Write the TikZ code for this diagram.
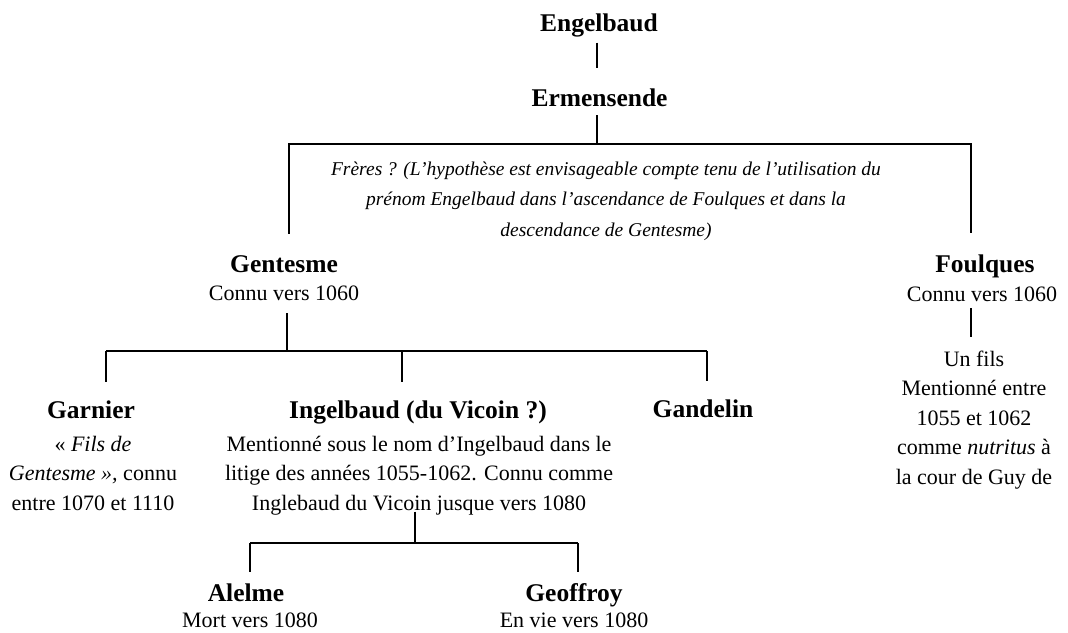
\documentclass[tikz,border=0pt]{standalone}
\usepackage{fontspec}
\setmainfont{Liberation Serif}
\newcommand{\mlines}[1]{\begin{tabular}[t]{@{}c@{}}#1\end{tabular}}
\begin{document}
\begin{tikzpicture}[x=1pt,y=-1pt,
  every node/.style={inner sep=0pt,outer sep=0pt,anchor=base},
  nm/.style={font=\fontsize{25.5}{29}\selectfont\bfseries},
  ds/.style={font=\fontsize{22}{29.6}\selectfont},
  nt/.style={font=\fontsize{19.5}{30.5}\selectfont\itshape},
  ln/.style={line width=1.6pt}]
\useasboundingbox (0,0) rectangle (1068,632);
% nodes
\node[nm] (engel) at (599,31) {Engelbaud};
\node[nm] (ermen) at (599.5,106) {Ermensende};
\node[nt] (note) at (606,175) {\mlines{Frères ? (L’hypothèse est envisageable compte tenu de l’utilisation du\\prénom Engelbaud dans l’ascendance de Foulques et dans la\\descendance de Gentesme)}};
\node[nm] (gent) at (284,272) {Gentesme};
\node[ds] (gdesc) at (284,300) {Connu vers 1060};
\node[nm] (foul) at (985,272) {Foulques};
\node[ds] (fdesc) at (982,301) {Connu vers 1060};
\node[ds] (fson) at (974,366) {\mlines{Un fils\\Mentionné entre\\1055 et 1062\\comme \emph{nutritus} à\\la cour de Guy de}};
\node[nm] (garn) at (91,418) {Garnier};
\node[ds] (gadesc) at (93,451) {\mlines{« \emph{Fils de}\\\emph{Gentesme »,} connu\\entre 1070 et 1110}};
\node[nm] (ingel) at (418,418) {Ingelbaud (du Vicoin ?)};
\node[ds] (idesc) at (419,451) {\mlines{Mentionné sous le nom d’Ingelbaud dans le\\litige des années 1055-1062. Connu comme\\Inglebaud du Vicoin jusque vers 1080}};
\node[nm] (gand) at (703,417) {Gandelin};
\node[nm] (alel) at (246,601) {Alelme};
\node[ds] (adesc) at (250,627) {Mort vers 1080};
\node[nm] (geof) at (574,601) {Geoffroy};
\node[ds] (gedesc) at (574,627) {En vie vers 1080};
% junctions
\coordinate (j0) at (597,144);
\coordinate (b1) at (289,144);
\coordinate (b2) at (971,144);
\coordinate (j1) at (287,351);
\coordinate (k1) at (106,351);
\coordinate (k2) at (402,351);
\coordinate (k3) at (707,351);
\coordinate (fj) at (971,337);
\coordinate (j2) at (415,543);
\coordinate (m1) at (250,543);
\coordinate (m2) at (578,543);
% connectors
\draw[ln,shorten <=6pt,shorten >=20.4pt] (j0 |- engel.south) -- (j0 |- ermen.north);
\draw[ln,shorten <=9pt] (j0 |- ermen.south) -- (j0);
\draw[ln,shorten <=21.4pt,shorten >=21.4pt] (b1 |- gent.north) -- (b1) -- (b2) -- (b2 |- foul.north);
\draw[ln,shorten <=13pt] (j1 |- gdesc.south) -- (j1);
\draw[ln] (k1) -- (k3);
\draw[ln,shorten >=18pt] (k1) -- (k1 |- garn.north);
\draw[ln,shorten >=18pt] (k2) -- (k2 |- ingel.north);
\draw[ln,shorten >=18pt] (k3) -- (k3 |- gand.north);
\draw[ln,shorten <=7pt,shorten >=8pt] (fj |- fdesc.south) -- (fj |- fson.north);
\draw[ln,shorten <=-7.5pt] (j2 |- idesc.south) -- (j2);
\draw[ln] (m1) -- (m2);
\draw[ln,shorten >=11.4pt] (m1) -- (m1 |- alel.north);
\draw[ln,shorten >=11.4pt] (m2) -- (m2 |- geof.north);
\end{tikzpicture}
\end{document}
